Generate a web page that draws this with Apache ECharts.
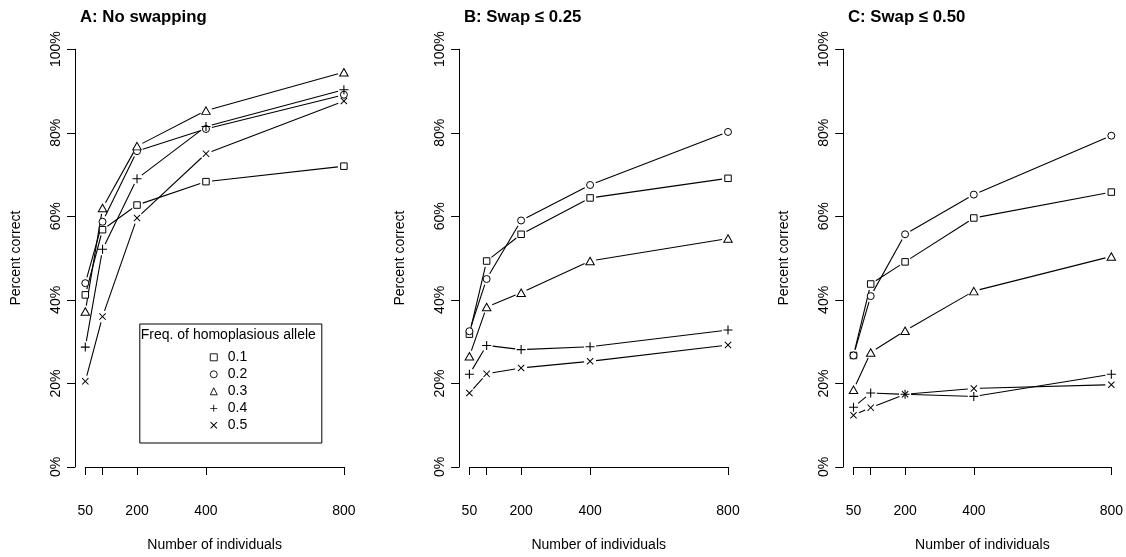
<!DOCTYPE html>
<html>
<head>
<meta charset="utf-8">
<title>Percent correct</title>
<script src="https://cdn.jsdelivr.net/npm/echarts@6/dist/echarts.min.js"></script>
<style>
    html, body { margin: 0; padding: 0; background: #fff; }
    #chart { width: 1126px; height: 557px; }
</style>
</head>
<body>
<div id="chart"></div>
<script>
// 样本量
var sizes = [50, 100, 200, 400, 800];
var xTicks = [50, 100, 200, 400, 800];
var xLabels = [50, 200, 400, 800];
var freqs = ['0.1', '0.2', '0.3', '0.4', '0.5'];
var panelTitles = ['A: No swapping', 'B: Swap \u2264 0.25', 'C: Swap \u2264 0.50'];

// A: No swapping
var noSwap01 = [41.2, 56.8, 62.7, 68.3, 72.0];
var noSwap02 = [44.0, 58.7, 75.6, 80.9, 89.1];
var noSwap03 = [37.2, 62.0, 76.8, 85.3, 94.5];
var noSwap04 = [28.7, 52.1, 69.0, 81.5, 90.3];
var noSwap05 = [20.5, 36.0, 59.6, 75.0, 87.6];
// B: Swap <= 0.25
var swap25_01 = [31.8, 49.3, 55.7, 64.4, 69.1];
var swap25_02 = [32.5, 45.0, 59.0, 67.5, 80.2];
var swap25_03 = [26.5, 38.3, 41.7, 49.3, 54.7];
var swap25_04 = [22.2, 29.1, 28.1, 28.8, 32.8];
var swap25_05 = [17.7, 22.3, 23.7, 25.3, 29.2];
// C: Swap <= 0.50
var swap50_01 = [26.7, 43.8, 49.1, 59.6, 65.8];
var swap50_02 = [26.7, 40.9, 55.7, 65.2, 79.3];
var swap50_03 = [18.5, 27.4, 32.6, 42.1, 50.4];
var swap50_04 = [14.3, 17.7, 17.4, 16.9, 22.2];
var swap50_05 = [12.4, 14.2, 17.4, 18.8, 19.7];

var panels = [
    [noSwap01, noSwap02, noSwap03, noSwap04, noSwap05],
    [swap25_01, swap25_02, swap25_03, swap25_04, swap25_05],
    [swap50_01, swap50_02, swap50_03, swap50_04, swap50_05]
];

// R 风格的点符号
var PLUS = 'path://M4.4,0H5.6V4.4H10V5.6H5.6V10H4.4V5.6H0V4.4H4.4Z';
var CROSS = 'path://M0,1L1,0L5,4L9,0L10,1L6,5L10,9L9,10L5,6L1,10L0,9L4,5Z';
var marks = [
    { symbol: 'rect', size: 6.5, fill: '#fff', border: 1 },
    { symbol: 'circle', size: 7, fill: '#fff', border: 1 },
    { symbol: 'triangle', size: [8.5, 7.5], fill: '#fff', border: 1 },
    { symbol: PLUS, size: 9, fill: '#000', border: 0 },
    { symbol: CROSS, size: 7, fill: '#000', border: 0 }
];

var FONT = 'Liberation Sans, Arial, Helvetica, sans-serif';
var gridLefts = [85.3, 469.4, 853.5];
var axisLefts = [75, 459, 843];
var GAP = 6; // type="b" 线段两端留空(像素)

// 折线段：两端缩短，点与线之间留出空隙
function renderSegment(params, api) {
    var a = api.coord([api.value(0), api.value(1)]);
    var b = api.coord([api.value(2), api.value(3)]);
    var dx = b[0] - a[0], dy = b[1] - a[1];
    var len = Math.sqrt(dx * dx + dy * dy);
    if (len <= 2 * GAP) return null;
    var ux = dx / len, uy = dy / len;
    return {
        type: 'line',
        shape: { x1: a[0] + ux * GAP, y1: a[1] + uy * GAP, x2: b[0] - ux * GAP, y2: b[1] - uy * GAP },
        style: { stroke: '#000', lineWidth: 1.1 }
    };
}

var grids = [], xAxes = [], yAxes = [], titles = [], series = [];
for (var p = 0; p < 3; p++) {
    grids.push({ left: gridLefts[p], top: 49.2, width: 258.6, height: 420.8 });
    titles.push({
        text: panelTitles[p], left: axisLefts[p], top: 4,
        textStyle: { fontFamily: FONT, fontSize: 16.8, fontWeight: 'bold', color: '#000' }
    });
    xAxes.push({
        type: 'value', gridIndex: p, min: 50, max: 800, offset: 17,
        name: 'Number of individuals', nameLocation: 'middle', nameGap: 54,
        nameTextStyle: { fontFamily: FONT, fontSize: 14, color: '#000' },
        axisLine: { show: true, lineStyle: { color: '#000', width: 1 } },
        axisTick: { show: true, length: 8, customValues: xTicks, lineStyle: { color: '#000' } },
        axisLabel: { customValues: xLabels, margin: 20, fontFamily: FONT, fontSize: 14, color: '#000' },
        splitLine: { show: false }
    });
    yAxes.push({
        type: 'value', gridIndex: p, min: 0, max: 100, interval: 20, offset: 10.3,
        name: 'Percent correct', nameLocation: 'middle', nameGap: 52,
        nameTextStyle: { fontFamily: FONT, fontSize: 14, color: '#000' },
        axisLine: { show: true, lineStyle: { color: '#000', width: 1 } },
        axisTick: { show: true, length: 8, lineStyle: { color: '#000' } },
        axisLabel: { rotate: 90, margin: 12, formatter: '{value}%', fontFamily: FONT, fontSize: 14, color: '#000' },
        splitLine: { show: false }
    });
    for (var k = 0; k < freqs.length; k++) {
        var vals = panels[p][k];
        var m = marks[k];
        var segs = [];
        for (var i = 0; i < sizes.length - 1; i++) {
            segs.push([sizes[i], vals[i], sizes[i + 1], vals[i + 1]]);
        }
        series.push({
            type: 'custom', xAxisIndex: p, yAxisIndex: p,
            renderItem: renderSegment, data: segs, clip: false,
            encode: { x: [0, 2], y: [1, 3] },
            silent: true, animation: false
        });
        series.push({
            name: freqs[k], type: 'scatter', xAxisIndex: p, yAxisIndex: p,
            data: sizes.map(function (s, i) { return [s, vals[i]]; }),
            symbol: m.symbol, symbolSize: m.size, clip: false,
            itemStyle: { color: m.fill, borderColor: '#000', borderWidth: m.border, opacity: 1 },
            emphasis: { disabled: true },
            animation: false
        });
    }
}

var chart = echarts.init(document.getElementById('chart'));
chart.setOption({
    backgroundColor: '#fff',
    animation: false,
    title: titles,
    grid: grids,
    xAxis: xAxes,
    yAxis: yAxes,
    legend: {
        orient: 'vertical', left: 209.8, top: 348.8, padding: 0,
        itemWidth: 7, itemHeight: 7, itemGap: 0,
        selectedMode: false,
        data: freqs.map(function (f, i) {
            return {
                name: f, icon: marks[i].symbol,
                itemStyle: { color: marks[i].fill, borderColor: '#000', borderWidth: marks[i].border ? 0.9 : 0 }
            };
        }),
        textStyle: { fontFamily: FONT, fontSize: 14, color: '#000', lineHeight: 17, padding: [0, 0, 0, 5.5] }
    },
    graphic: [
        {
            type: 'rect', left: 137.3, top: 321.5,
            shape: { width: 182, height: 119 },
            style: { fill: 'none', stroke: '#000', lineWidth: 1 }
        },
        {
            type: 'text', x: 228.3, y: 335,
            style: { text: 'Freq. of homoplasious allele', font: '14px ' + FONT, fill: '#000', align: 'center', verticalAlign: 'middle' }
        }
    ],
    series: series
});
</script>
</body>
</html>
